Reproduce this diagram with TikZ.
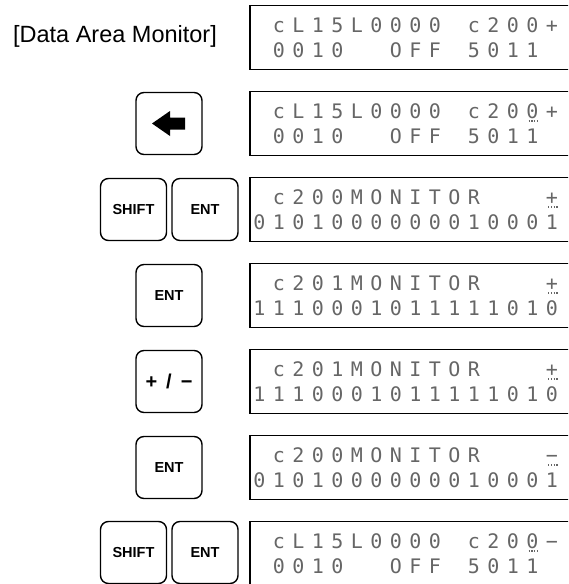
\documentclass[tikz,border=0pt]{standalone}
\usepackage{fontspec}
\setmainfont{Liberation Sans}
\newfontfamily\lcdfont{DejaVu Sans Mono}
\usepackage{tikz}

% one character cell of the LCD, fixed pitch
\newcommand\lcdcell[1]{\makebox[19.5pt]{#1}}
\def\lcdstop{LCDSTOP}
\def\lcdscan#1{\ifx#1\lcdstop\else\lcdcell{#1}\expandafter\lcdscan\fi}
\newcommand\lcdrow[1]{\lcdscan#1\lcdstop}

\begin{document}
\begin{tikzpicture}[x=1pt,y=-1pt,
  key/.style={draw, line width=1.4pt, rounded corners=8pt, minimum width=66pt,
    minimum height=62pt, inner sep=0pt, font=\fontsize{14.5}{16}\selectfont\bfseries},
  lcd/.style={draw, line width=1.6pt, anchor=west, minimum width=340pt, minimum height=64pt},
  lcdline/.style={anchor=base west, inner sep=0pt, text=black!60, font=\fontsize{20}{21}\lcdfont},
  cursor/.style={black!60, line width=1.3pt, dash pattern=on 1.3pt off 1.5pt}]
  \useasboundingbox (0,0) rectangle (568,584);
  \clip (0,0) rectangle (568,584);

  \node[font=\fontsize{23.5}{28}\selectfont] (title) at (115,36.5) {[Data Area Monitor]};

  % displays
  \node[lcd] (d1) at (249,37.5) {};
  \node[lcdline] (d1a) at (249.5,32.5) {\lcdrow{~cL15L0000~c200+}};
  \node[lcdline] (d1b) at (249.5,57.5) {\lcdrow{~0010~~OFF~5011~}};

  \node[lcd] (d2) at (249,123.5) {};
  \node[lcdline] (d2a) at (249.5,118.5) {\lcdrow{~cL15L0000~c200+}};
  \node[lcdline] (d2b) at (249.5,143.5) {\lcdrow{~0010~~OFF~5011~}};
  \draw[cursor] (528.5,121) -- (538.5,121);

  \node[lcd] (d3) at (249,209.5) {};
  \node[lcdline] (d3a) at (249.5,204.5) {\lcdrow{~c200MONITOR~~~+}};
  \node[lcdline] (d3b) at (249.5,229.5) {\lcdrow{0101000000010001}};
  \draw[cursor] (548,207) -- (558,207);

  \node[lcd] (d4) at (249,295.5) {};
  \node[lcdline] (d4a) at (249.5,290.5) {\lcdrow{~c201MONITOR~~~+}};
  \node[lcdline] (d4b) at (249.5,315.5) {\lcdrow{1110001011111010}};
  \draw[cursor] (548,293) -- (558,293);

  \node[lcd] (d5) at (249,381.5) {};
  \node[lcdline] (d5a) at (249.5,376.5) {\lcdrow{~c201MONITOR~~~+}};
  \node[lcdline] (d5b) at (249.5,401.5) {\lcdrow{1110001011111010}};
  \draw[cursor] (548,379) -- (558,379);

  \node[lcd] (d6) at (249,467.5) {};
  \node[lcdline] (d6a) at (249.5,462.5) {\lcdrow{~c200MONITOR~~~−}};
  \node[lcdline] (d6b) at (249.5,487.5) {\lcdrow{0101000000010001}};
  \draw[cursor] (548,465) -- (558,465);

  \node[lcd] (d7) at (249,553.5) {};
  \node[lcdline] (d7a) at (249.5,548.5) {\lcdrow{~cL15L0000~c200−}};
  \node[lcdline] (d7b) at (249.5,573.5) {\lcdrow{~0010~~OFF~5011~}};
  \draw[cursor] (528.5,551) -- (538.5,551);

  % keys
  \node[key] (kback) at (169,123.5) {};
  \fill (kback.center) ++(-17,0) -- ++(18,-12.5) -- ++(0,6.5) -- ++(15,0)
    -- ++(0,12) -- ++(-15,0) -- ++(0,6.5) -- cycle;
  \node[key] (kshift3) at (133.5,209.5) {SHIFT};
  \node[key] (kent3) at (205,209.5) {ENT};
  \node[key] (kent4) at (169,295.5) {ENT};
  \node[key, font=\fontsize{20}{22}\selectfont\bfseries] (kpm5) at (169,381.5)
    {+\hspace{9pt}/\hspace{9pt}−};
  \node[key] (kent6) at (169,467.5) {ENT};
  \node[key] (kshift7) at (133.5,552.5) {SHIFT};
  \node[key] (kent7) at (205,552.5) {ENT};
\end{tikzpicture}
\end{document}
